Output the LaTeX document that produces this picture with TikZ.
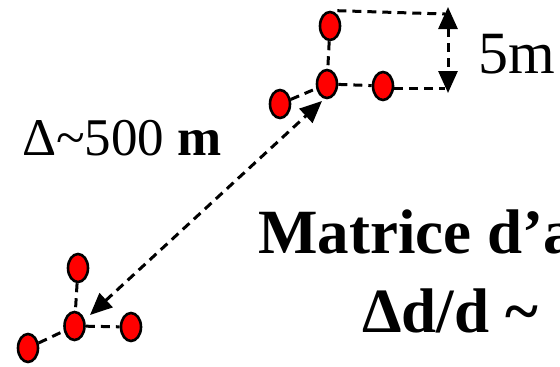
\documentclass[tikz,border=0pt]{standalone}
\usepackage{fontspec}
\setmainfont{Liberation Serif}
\usetikzlibrary{shapes.geometric,arrows.meta,backgrounds}
\tikzset{
  ant/.style={ellipse,draw=black,fill=red,line width=2.6pt,minimum width=20pt,minimum height=28pt,inner sep=0pt},
  dsh/.style={line width=3pt,dash pattern=on 9pt off 6pt},
  bigtip/.style={dsh,{Triangle[length=22pt,width=19pt]}-{Triangle[length=22pt,width=19pt]}},
  lbl/.style={inner sep=0pt,anchor=base west}
}
\begin{document}
\begin{tikzpicture}[x=1pt,y=-1pt]
\useasboundingbox (0,0) rectangle (560,367);
\clip (0,0) rectangle (560,367);
% top cluster
\node[ant] (T1) at (330,26) {};
\node[ant] (T2) at (327,84) {};
\node[ant] (T3) at (383,86) {};
\node[ant] (T4) at (280,104) {};
% bottom cluster
\node[ant] (B1) at (78,268) {};
\node[ant] (B2) at (74.5,326) {};
\node[ant] (B3) at (131,327) {};
\node[ant] (B4) at (28,348) {};
\coordinate (RT) at (445,14);
\coordinate (RB) at (445,88);
\coordinate (VT) at (448,7);
\coordinate (VB) at (448,93);
\coordinate (AL) at (90,315);
\coordinate (AU) at (322,101);
\begin{pgfonlayer}{background}
\draw[dsh] (T1) -- (T2);
\draw[dsh] (T2) -- (T3);
\draw[dsh] (T4) -- (T2);
\draw[dsh] (T1.north -| T1.east) ++(-4,0) -- (RT);
\draw[dsh] (T3.east |- RB) -- (RB);
\draw[dsh] (B1) -- (B2);
\draw[dsh] (B2) -- (B3);
\draw[dsh] (B4) -- (B2);
\end{pgfonlayer}
\draw[bigtip] (VT) -- (VB);
\draw[bigtip] (AL) -- (AU);
% labels
\node[lbl,font=\fontsize{60}{60}\selectfont] (L5) at (478,73) {5m};
\node[lbl,font=\fontsize{53}{53}\selectfont] (L500) at (22,155) {Δ\char"007E 500 \textbf{m}};
\node[lbl,font=\fontsize{63}{63}\selectfont\bfseries] (LM) at (258,253) {Matrice d’a};
\node[lbl,font=\fontsize{63}{63}\selectfont\bfseries] (LD) at (362,332) {Δd/d \char"007E};
\end{tikzpicture}
\end{document}
